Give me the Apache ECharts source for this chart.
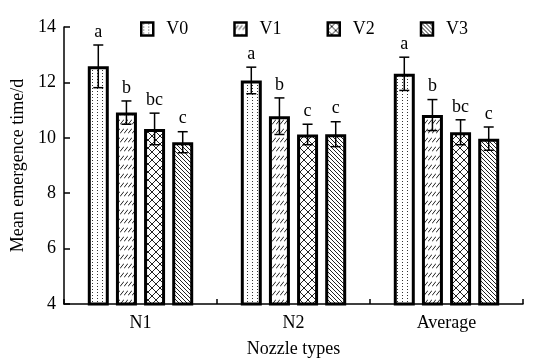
<!DOCTYPE html>
<html><head><meta charset="utf-8">
<script src="https://cdn.jsdelivr.net/npm/echarts@6/dist/echarts.min.js"></script>
<style>html,body{margin:0;padding:0;background:#fff;overflow:hidden}#c{width:536px;height:363px}</style>
</head><body><div id="c"></div>
<script>
var categories = ['N1', 'N2', 'Average'];
var seriesNames = ['V0', 'V1', 'V2', 'V3'];
var v0 = [12.58, 12.07, 12.31];
var v1 = [10.91, 10.78, 10.82];
var v2 = [10.32, 10.12, 10.20];
var v3 = [9.84, 10.13, 9.97];
var v0Err = [0.77, 0.48, 0.60];
var v1Err = [0.42, 0.66, 0.56];
var v2Err = [0.57, 0.37, 0.45];
var v3Err = [0.38, 0.45, 0.42];
var v0Letters = ['a', 'a', 'a'];
var v1Letters = ['b', 'b', 'b'];
var v2Letters = ['bc', 'c', 'bc'];
var v3Letters = ['c', 'c', 'c'];
var yTicks = [4, 6, 8, 10, 12, 14];

var values = [v0, v1, v2, v3];
var errs = [v0Err, v1Err, v2Err, v3Err];
var letters = [v0Letters, v1Letters, v2Letters, v3Letters];

function makePattern(kind) {
  var c = document.createElement('canvas');
  var w = 8, h = 8;
  if (kind === 0) { w = 5; h = 6; }
  if (kind === 1) { w = 4; h = 9; }
  if (kind === 2) { w = 8; h = 8; }
  if (kind === 3) { w = 4; h = 4; }
  c.width = w; c.height = h;
  var g = c.getContext('2d');
  g.fillStyle = '#fff'; g.fillRect(0, 0, w, h);
  g.strokeStyle = '#222'; g.fillStyle = '#333'; g.lineWidth = 1;
  if (kind === 0) {
    g.fillRect(2, 1, 1, 1);
    g.fillRect(2, 4, 1, 1);
  } else if (kind === 1) {
    g.beginPath(); g.moveTo(0, 7.5); g.lineTo(4, 2.5); g.stroke();
  } else if (kind === 2) {
    g.beginPath();
    g.moveTo(0, 0); g.lineTo(8, 8);
    g.moveTo(8, 0); g.lineTo(0, 8);
    g.stroke();
  } else if (kind === 3) {
    g.beginPath();
    g.moveTo(-1, -1); g.lineTo(5, 5);
    g.moveTo(-1, 3); g.lineTo(1, 5);
    g.moveTo(3, -1); g.lineTo(5, 1);
    g.stroke();
  }
  return { image: c, repeat: 'repeat' };
}

var FONT = '"Liberation Serif", "Times New Roman", serif';
var barW = 21, barGap = 0.34;
var series = [];
seriesNames.forEach(function (name, i) {
  series.push({
    name: name, type: 'bar', data: values[i],
    barWidth: barW, barGap: (barGap * 100) + '%',
    itemStyle: { color: makePattern(i), borderColor: '#000', borderWidth: 3 },
    z: 2
  });
});
seriesNames.forEach(function (name, i) {
  series.push({
    type: 'custom', name: name + ' err',
    data: categories.map(function (c, k) { return [k, values[i][k], errs[i][k]]; }),
    z: 5, silent: true,
    renderItem: function (params, api) {
      var k = api.value(0), v = api.value(1), e = api.value(2);
      var off = (i - 1.5) * barW * (1 + barGap);
      var top = api.coord([k, v + e]);
      var bot = api.coord([k, v - e]);
      var x = top[0] + off;
      var hw = 5;
      return {
        type: 'group',
        children: [
          { type: 'line', shape: { x1: x, y1: top[1], x2: x, y2: bot[1] }, style: { stroke: '#000', lineWidth: 1.5 } },
          { type: 'line', shape: { x1: x - hw, y1: top[1], x2: x + hw, y2: top[1] }, style: { stroke: '#000', lineWidth: 1.5 } },
          { type: 'line', shape: { x1: x - hw, y1: bot[1], x2: x + hw, y2: bot[1] }, style: { stroke: '#000', lineWidth: 1.5 } },
          { type: 'text', x: x, y: top[1] - 4, style: { text: letters[i][k], fill: '#000', font: '18px ' + FONT, align: 'center', verticalAlign: 'bottom' } }
        ]
      };
    }
  });
});

var chart = echarts.init(document.getElementById('c'), null, { width: 536, height: 363 });
chart.setOption({
  animation: false,
  backgroundColor: '#fff',
  textStyle: { fontFamily: FONT, color: '#000' },
  legend: {
    data: seriesNames, top: 15, left: 135, itemWidth: 12, itemHeight: 13, itemGap: 45,
    icon: 'rect',
    itemStyle: { borderColor: '#000', borderWidth: 2.5 },
    textStyle: { fontFamily: FONT, fontSize: 18, color: '#000', padding: [0, 0, 0, 8] }
  },
  grid: { left: 64, right: 13, top: 27, bottom: 50 },
  xAxis: {
    type: 'category', data: categories,
    name: 'Nozzle types', nameLocation: 'middle', nameGap: 36,
    nameTextStyle: { fontFamily: FONT, fontSize: 18, color: '#000' },
    axisLine: { lineStyle: { color: '#000', width: 1.5 } },
    axisTick: { show: true, inside: true, length: 5, lineStyle: { color: '#000', width: 1.5 } },
    axisLabel: { fontFamily: FONT, fontSize: 18, color: '#000', margin: 10 }
  },
  yAxis: {
    type: 'value', min: yTicks[0], max: yTicks[yTicks.length - 1], interval: yTicks[1] - yTicks[0],
    name: 'Mean emergence time/d', nameLocation: 'middle', nameGap: 33,
    nameTextStyle: { fontFamily: FONT, fontSize: 18, color: '#000' },
    axisLine: { show: true, lineStyle: { color: '#000', width: 1.5 } },
    axisTick: { show: true, inside: true, length: 6, lineStyle: { color: '#000', width: 1.5 } },
    axisLabel: { fontFamily: FONT, fontSize: 18, color: '#000', margin: 8 },
    splitLine: { show: false }
  },
  series: series
});
</script></body></html>
